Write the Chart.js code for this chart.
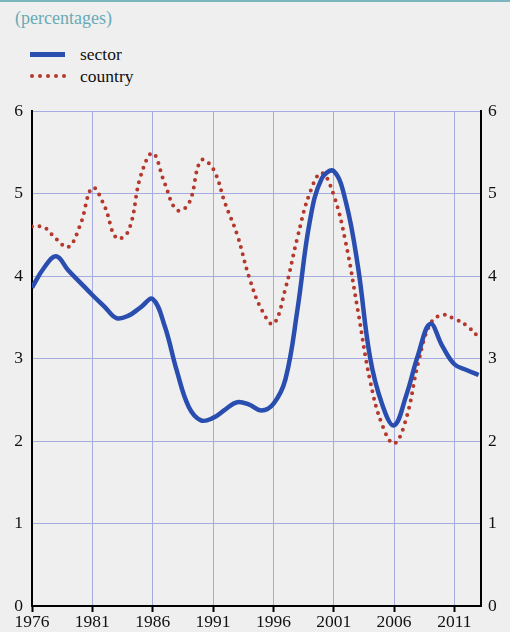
<!DOCTYPE html>
<html>
<head>
<meta charset="utf-8">
<script src="https://cdn.jsdelivr.net/npm/chart.js@4.4.1/dist/chart.umd.min.js"></script>
<style>
  body { margin: 0; background: #efefef; }
  #wrap { position: relative; width: 510px; height: 632px; overflow: hidden; background: #efefef; }
  #topline { position: absolute; left: 0; top: 0; width: 510px; height: 2px; background: #7bb5bd; }
  .txt { position: absolute; font-family: "Times New Roman", "Liberation Serif", "DejaVu Serif", serif; white-space: nowrap; }
  #unit { left: 15px; top: 7px; font-size: 18px; line-height: 22px; color: #6aaab5; }
  .lab { left: 80px; font-size: 17.5px; line-height: 20px; color: #111; }
  #sw1 { position: absolute; left: 30px; top: 52px; width: 35px; height: 5px; background: #2a4eb0; }
  .dot { position: absolute; width: 4px; height: 4px; border-radius: 50%; background: #b5382c; top: 74px; }
  canvas { position: absolute; left: 0; top: 0; }
</style>
</head>
<body>
<div id="wrap">
  <div id="topline"></div>
  <div class="txt" id="unit">(percentages)</div>
  <div id="sw1"></div>
  <div class="txt lab" style="top:44px">sector</div>
  <div class="txt lab" style="top:66px">country</div>
  <canvas id="chart" width="510" height="632"></canvas>
</div>
<script>
// données
const years = [1976, 1977, 1978, 1979, 1980, 1981, 1982, 1983, 1984, 1985,
  1986, 1987, 1988, 1989, 1990, 1991, 1992, 1993, 1994, 1995,
  1996, 1997, 1998, 1999, 2000, 2001, 2002, 2003, 2004, 2005,
  2006, 2007, 2008, 2009, 2010, 2011, 2012, 2013];
const sector = [3.86, 4.1, 4.24, 4.07, 3.92, 3.77, 3.63, 3.49, 3.52, 3.62,
  3.72, 3.39, 2.85, 2.41, 2.25, 2.28, 2.38, 2.47, 2.44, 2.37,
  2.45, 2.75, 3.6, 4.65, 5.18, 5.27, 4.9, 4.12, 3.02, 2.45,
  2.19, 2.55, 3.05, 3.42, 3.15, 2.93, 2.86, 2.8];
const country = [4.6, 4.59, 4.45, 4.35, 4.62, 5.07, 4.85, 4.46, 4.55, 5.21,
  5.49, 5.12, 4.8, 4.88, 5.4, 5.3, 4.88, 4.5, 3.98, 3.6,
  3.42, 3.85, 4.47, 5.0, 5.25, 4.98, 4.4, 3.58, 2.74, 2.2,
  1.97, 2.27, 2.95, 3.42, 3.53, 3.48, 3.4, 3.26];
const xTicks = [1976, 1981, 1986, 1991, 1996, 2001, 2006, 2011];
const yTicks = [0, 1, 2, 3, 4, 5, 6];

const blue = '#2a4eb0';
const red = '#b5382c';
const gridCol = '#a6acdf';
const tickFont = { family: '"Times New Roman", "Liberation Serif", serif', size: 17.5 };

// points de la légende pointillée
[32, 40, 48, 56, 64].forEach(function (x) {
  const d = document.createElement('div');
  d.className = 'dot';
  d.style.left = (x - 2) + 'px';
  document.getElementById('wrap').appendChild(d);
});

const ctx = document.getElementById('chart').getContext('2d');
const chart = new Chart(ctx, {
  type: 'line',
  data: {
    datasets: [{
      label: 'sector',
      data: years.map((y, i) => ({ x: y, y: sector[i] })),
      borderColor: blue,
      borderWidth: 4.5,
      pointRadius: 0,
      tension: 0.4,
      fill: false
    }, {
      label: 'country',
      data: years.map((y, i) => ({ x: y, y: country[i] })),
      borderColor: red,
      borderWidth: 4,
      borderDash: [0, 7.5],
      borderCapStyle: 'round',
      pointRadius: 0,
      tension: 0.4,
      fill: false
    }]
  },
  options: {
    responsive: false,
    animation: false,
    layout: { padding: { top: 111, left: 0, right: 0, bottom: 0 } },
    plugins: {
      legend: { display: false },
      tooltip: { enabled: false }
    },
    scales: {
      x: {
        type: 'linear',
        min: 1976,
        max: 2013.2,
        afterBuildTicks: s => { s.ticks = xTicks.map(v => ({ value: v })); },
        afterFit: s => { s.height = 26; },
        grid: { color: gridCol, lineWidth: 1, tickColor: '#000', tickLength: 6, tickWidth: 2 },
        border: { color: '#000', width: 2 },
        ticks: { font: tickFont, color: '#111', padding: 0, maxRotation: 0, autoSkip: false, callback: v => String(v) }
      },
      y: {
        position: 'left',
        min: 0,
        max: 6,
        afterBuildTicks: s => { s.ticks = yTicks.map(v => ({ value: v })); },
        afterFit: s => { s.width = 32; },
        grid: { color: gridCol, lineWidth: 1, drawTicks: false },
        border: { color: '#000', width: 2 },
        ticks: { font: tickFont, color: '#111', padding: 9 }
      },
      y2: {
        position: 'right',
        min: 0,
        max: 6,
        afterBuildTicks: s => { s.ticks = yTicks.map(v => ({ value: v })); },
        afterFit: s => { s.width = 29; },
        grid: { drawOnChartArea: false, drawTicks: false },
        border: { color: '#000', width: 2 },
        ticks: { font: tickFont, color: '#111', padding: 7 }
      }
    }
  }
});
</script>
</body>
</html>
